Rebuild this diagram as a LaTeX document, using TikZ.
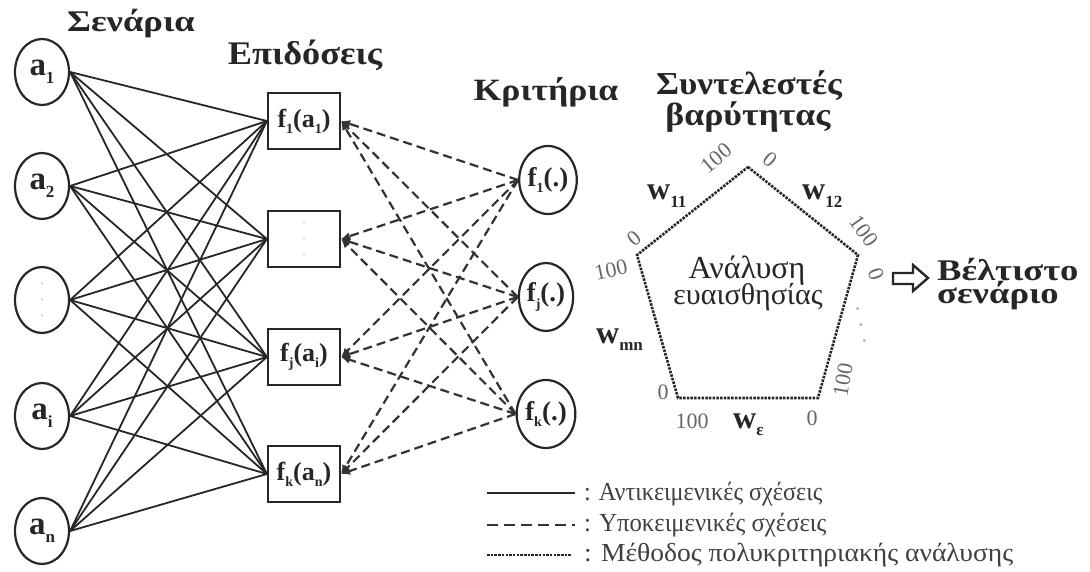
\documentclass[tikz,border=0pt]{standalone}
\usepackage{fontspec}
\setmainfont{Liberation Serif}
\usetikzlibrary{arrows.meta,shapes.geometric}
\newcommand\lsub[2][14]{\raisebox{-0.5ex}{\fontsize{#1}{#1}\selectfont #2}}
\newcommand\sx[2]{\scalebox{#1}[1]{#2}}
\begin{document}
\begin{tikzpicture}[x=1pt,y=-1pt,
  scen/.style={draw=black!85, ellipse, line width=2.2pt, minimum width=54pt, minimum height=66pt, inner sep=0pt, font=\bfseries\fontsize{33}{33}\selectfont, text=black!85},
  perf/.style={draw=black!85, rectangle, line width=2.2pt, minimum width=72pt, minimum height=56pt, inner sep=0pt, font=\bfseries\fontsize{26}{26}\selectfont, text=black!85},
  crit/.style={draw=black!85, ellipse, line width=2.2pt, minimum width=54pt, minimum height=68pt, inner sep=0pt, font=\bfseries\fontsize{27}{27}\selectfont, text=black!85},
  title/.style={anchor=base, inner sep=0pt, text=black!85},
  obj/.style={draw=black!85, line width=1.8pt},
  subj/.style={draw=black!80, line width=2.2pt, dash pattern=on 9pt off 5pt, -{Latex[length=9pt,width=8pt]}},
  mcda/.style={draw=black!85, line width=2.6pt, dash pattern=on 2.5pt off 1.2pt},
  num/.style={font=\fontsize{22}{22}\selectfont, text=black!60, inner sep=0pt},
  wlab/.style={font=\bfseries\fontsize{32}{32}\selectfont, text=black!85, inner sep=0pt, anchor=base west},
  dots/.style={align=center, font=\fontsize{12}{16}\selectfont, text=black!40},
  leg/.style={font=\fontsize{26}{26}\selectfont, anchor=base west, text=black!75, inner sep=0pt},
]
\useasboundingbox (0,0) rectangle (1090,572);

% titles
\node[title, font=\bfseries\fontsize{30}{30}\selectfont] (tscen) at (131,32) {\sx{1.22}{Σενάρια}};
\node[title, font=\bfseries\fontsize{33}{33}\selectfont] (tperf) at (305,65) {\sx{1.1}{Επιδόσεις}};
\node[title, font=\bfseries\fontsize{31}{31}\selectfont] (tcrit) at (546,101) {\sx{1.15}{Κριτήρια}};
\node[title, font=\bfseries\fontsize{32}{32}\selectfont] (tw1) at (749,95) {\sx{1.1}{Συντελεστές}};
\node[title, font=\bfseries\fontsize{32}{32}\selectfont] (tw2) at (748,126) {\sx{1.12}{βαρύτητας}};

% scenarios
\node[scen] (a1) at (42,72)  {a\lsub[17]{1}};
\node[scen] (a2) at (42,186) {a\lsub[17]{2}};
\node[scen, dots] (a3) at (42,300) {.\\.\\.};
\node[scen] (a4) at (42,416) {a\lsub[17]{i}};
\node[scen] (a5) at (42,531) {a\lsub[17]{n}};

% performances
\node[perf] (p1) at (304,121) {f\lsub{1}(a\lsub{1})};
\node[perf, dots] (p2) at (304,239) {.\\.\\.};
\node[perf] (p3) at (304,357) {f\lsub{j}(a\lsub{i})};
\node[perf] (p4) at (304,474) {f\lsub{k}(a\lsub{n})};

% criteria
\node[crit] (c1) at (548,180) {f\lsub{1}(.)};
\node[crit] (c2) at (546,297) {f\lsub{j}(.)};
\node[crit] (c3) at (546,414) {f\lsub{k}(.)};

% objective relations
\foreach \a in {a1,a2,a3,a4,a5}
  \foreach \p in {p1,p2,p3,p4}
    \draw[obj] (\a.east) -- (\p.west);

% subjective relations
\foreach \c in {c1,c2,c3}
  \foreach \p in {p1,p2,p3,p4}
    \draw[subj] (\c.west) -- (\p.east);

% weights pentagon
\coordinate (vt) at (748,167);
\coordinate (vul) at (637,255);
\coordinate (vur) at (858,255);
\coordinate (vll) at (678,398);
\coordinate (vlr) at (818,398);
\draw[mcda] (vt) -- (vur) -- (vlr) -- (vll) -- (vul) -- cycle;

\node[num, rotate=40] (n1) at (716,158) {100};
\node[num, rotate=-40] (n2) at (770,160) {0};
\node[wlab] (w11) at (647,200) {w\lsub[17]{11}};
\node[wlab] (w12) at (802,200) {w\lsub[17]{12}};
\node[num, rotate=40] (n3) at (634,238) {0};
\node[num, rotate=-55] (n4) at (864,231) {100};
\node[num, rotate=12] (n5) at (611,270) {100};
\node[num, rotate=-70] (n6) at (876,274) {0};
\node[num, text=black!35, rotate=-78] (n7) at (861,325) {.\ \ .\ \ .};
\node[wlab] (wmn) at (596,343) {w\lsub[17]{mn}};
\node[num] (n8) at (663,392) {0};
\node[num] (n9) at (692,421) {100};
\node[wlab] (ws) at (733,428) {w\lsub[17]{ε}};
\node[num] (n10) at (812,418) {0};
\node[num, rotate=80] (n11) at (843,380) {100};

\node[title, font=\fontsize{32}{32}\selectfont] (sens1) at (747,278) {Ανάλυση};
\node[title, font=\fontsize{30}{30}\selectfont] (sens2) at (748,305) {ευαισθησίας};

% optimal scenario
\draw[draw=black!85, line width=2.4pt, fill=white, line join=miter]
  (893,273) -- (913,273) -- (913,265) -- (928,278) -- (913,291) -- (913,284) -- (893,284) -- cycle;
\node[title, anchor=base west, font=\bfseries\fontsize{30}{30}\selectfont] (best1) at (937,280) {\sx{1.22}{Βέλτιστο}};
\node[title, anchor=base west, font=\bfseries\fontsize{30}{30}\selectfont] (best2) at (937,303) {\sx{1.22}{σενάριο}};

% legend
\coordinate (l1a) at (487,493); \coordinate (l1b) at (575,493);
\coordinate (l2a) at (487,525); \coordinate (l2b) at (575,525);
\coordinate (l3a) at (487,555); \coordinate (l3b) at (572,555);
\draw[obj, line width=2.6pt] (l1a) -- (l1b);
\draw[draw=black!80, line width=2.6pt, dash pattern=on 11pt off 6pt] (l2a) -- (l2b);
\draw[mcda] (l3a) -- (l3b);
\node[leg] (g1) at (584,500) {\sx{0.93}{: Αντικειμενικές σχέσεις}};
\node[leg] (g2) at (584,531) {\sx{0.95}{: Υποκειμενικές σχέσεις}};
\node[leg] (g3) at (584,561) {\sx{1.06}{: Μέθοδος πολυκριτηριακής ανάλυσης}};
\end{tikzpicture}
\end{document}
